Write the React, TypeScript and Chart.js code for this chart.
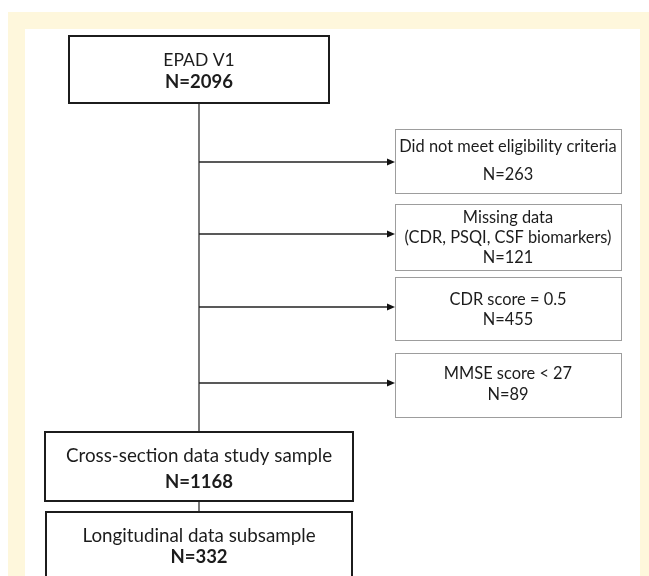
import React, { useEffect, useRef } from "react";
import { Chart, registerables } from "chart.js";

Chart.register(...registerables);

// ---- data ----
const stageLabels = ["EPAD V1", "Cross-section data study sample", "Longitudinal data subsample"];
const stageCounts = [2096, 1168, 332];
const exclusionLabels: string[][] = [
  ["Did not meet eligibility criteria"],
  ["Missing data", "(CDR, PSQI, CSF biomarkers)"],
  ["CDR score = 0.5"],
  ["MMSE score < 27"],
];
const exclusionCounts = [263, 121, 455, 89];

// ---- layout (scale units) ----
const W = 649;
const H = 576;
const stageBoxes = [
  { x0: 69, y0: 36, x1: 329, y1: 103, lines: [60, 82] },
  { x0: 45, y0: 432, x1: 353, y1: 501, lines: [456, 482] },
  { x0: 46, y0: 512, x1: 352, y1: 620, lines: [536, 557] },
];
const exclusionBoxes = [
  { y0: 129, y1: 193, lines: [147, 175], arrowY: 162 },
  { y0: 204, y1: 270, lines: [218, 238, 258], arrowY: 234 },
  { y0: 277, y1: 340, lines: [300, 320], arrowY: 307 },
  { y0: 353, y1: 417, lines: [374, 395], arrowY: 383 },
];
const exclX0 = 395;
const exclX1 = 621;
const trunkX = 199;

const FONT = "Lato, 'Open Sans', sans-serif";
const INK = "#1c1c1c";

const flowPlugin = {
  id: "flow",
  beforeDraw(chart: any) {
    const { ctx } = chart;
    const xs = chart.scales.x;
    const ys = chart.scales.y;
    const px = (v: number) => xs.getPixelForValue(v);
    const py = (v: number) => ys.getPixelForValue(v);
    ctx.save();
    // frame
    ctx.fillStyle = "#ffffff";
    ctx.fillRect(0, 0, chart.width, chart.height);
    ctx.fillStyle = "#fef7dc";
    ctx.fillRect(px(8), py(12), px(W) - px(8), py(H) - py(12));
    ctx.fillStyle = "#ffffff";
    ctx.fillRect(px(25), py(29), px(640) - px(25), py(H) - py(29));

    // trunk & connectors
    ctx.strokeStyle = "#333";
    ctx.lineWidth = 1.3;
    ctx.beginPath();
    ctx.moveTo(px(trunkX), py(stageBoxes[0].y1));
    ctx.lineTo(px(trunkX), py(stageBoxes[1].y0));
    ctx.moveTo(px(trunkX), py(stageBoxes[1].y1));
    ctx.lineTo(px(trunkX), py(stageBoxes[2].y0));
    ctx.stroke();

    // arrows
    exclusionBoxes.forEach((b) => {
      const y = py(b.arrowY);
      const tip = px(exclX0);
      ctx.strokeStyle = "#222";
      ctx.lineWidth = 1.5;
      ctx.beginPath();
      ctx.moveTo(px(trunkX), y);
      ctx.lineTo(tip - 6, y);
      ctx.stroke();
      ctx.fillStyle = "#111";
      ctx.beginPath();
      ctx.moveTo(tip, y);
      ctx.lineTo(tip - 8, y - 3.5);
      ctx.lineTo(tip - 8, y + 3.5);
      ctx.closePath();
      ctx.fill();
    });

    // stage boxes
    stageBoxes.forEach((b, i) => {
      ctx.fillStyle = "#fff";
      ctx.fillRect(px(b.x0), py(b.y0), px(b.x1) - px(b.x0), py(b.y1) - py(b.y0));
      ctx.strokeStyle = INK;
      ctx.lineWidth = 2;
      ctx.setLineDash([]);
      ctx.strokeRect(px(b.x0), py(b.y0), px(b.x1) - px(b.x0), py(b.y1) - py(b.y0));
      const cx = (px(b.x0) + px(b.x1)) / 2;
      ctx.fillStyle = INK;
      ctx.textAlign = "center";
      ctx.textBaseline = "middle";
      ctx.font = `${i === 0 ? 17.5 : 18.8}px ${FONT}`;
      ctx.fillText(stageLabels[i], cx, py(b.lines[0]));
      ctx.font = `bold 18.5px ${FONT}`;
      ctx.fillText(`N=${stageCounts[i]}`, cx, py(b.lines[1]));
    });

    // exclusion boxes
    exclusionBoxes.forEach((b, i) => {
      ctx.fillStyle = "#fff";
      ctx.fillRect(px(exclX0), py(b.y0), px(exclX1) - px(exclX0), py(b.y1) - py(b.y0));
      ctx.strokeStyle = "#3a3a3a";
      ctx.lineWidth = 1;
      ctx.setLineDash([1, 1]);
      ctx.strokeRect(px(exclX0) + 0.5, py(b.y0) + 0.5, px(exclX1) - px(exclX0), py(b.y1) - py(b.y0));
      ctx.setLineDash([]);
      const cx = (px(exclX0) + px(exclX1)) / 2;
      ctx.fillStyle = INK;
      ctx.textAlign = "center";
      ctx.textBaseline = "middle";
      ctx.font = `16.4px ${FONT}`;
      const lbls = exclusionLabels[i];
      lbls.forEach((t, k) => ctx.fillText(t, cx, py(b.lines[k])));
      ctx.fillText(`N=${exclusionCounts[i]}`, cx, py(b.lines[lbls.length]));
    });
    ctx.restore();
  },
};

export default function App() {
  const ref = useRef<HTMLCanvasElement | null>(null);
  useEffect(() => {
    if (!ref.current) return;
    const chart = new Chart(ref.current, {
      type: "scatter",
      data: { datasets: [{ data: [], pointRadius: 0 }] },
      options: {
        responsive: false,
        animation: false,
        layout: { padding: 0 },
        plugins: { legend: { display: false }, tooltip: { enabled: false } },
        scales: {
          x: { type: "linear", min: 0, max: W, display: false },
          y: { type: "linear", min: 0, max: H, reverse: true, display: false },
        },
      },
      plugins: [flowPlugin],
    });
    return () => chart.destroy();
  }, []);
  return (
    <div style={{ position: "fixed", left: 0, top: 0, width: W, height: H, background: "#fff" }}>
      <canvas ref={ref} width={W} height={H} style={{ width: W, height: H, display: "block" }} />
    </div>
  );
}
